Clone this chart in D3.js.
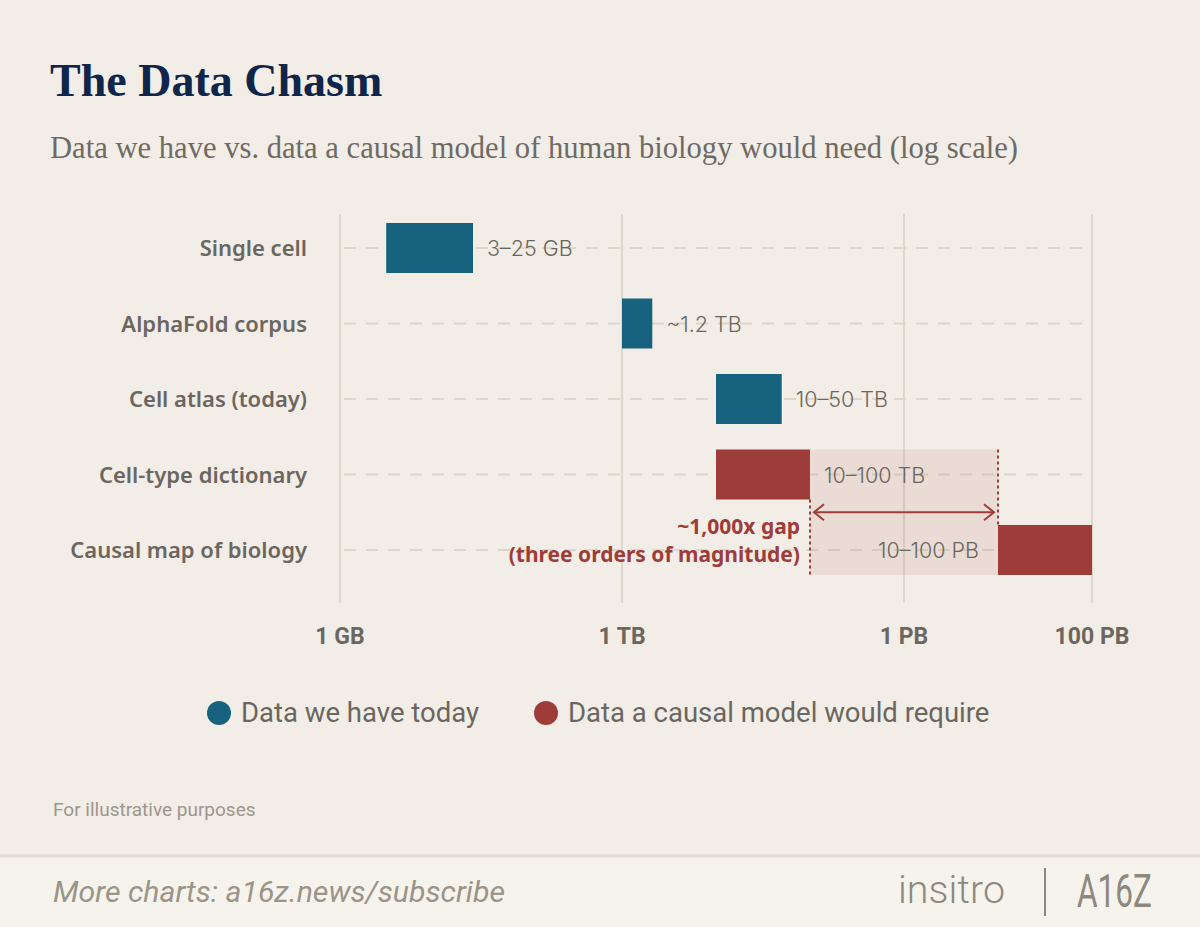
<!DOCTYPE html>
<html>
<head>
<meta charset="utf-8">
<script src="https://cdn.jsdelivr.net/npm/d3@7"></script>
<style>
  html, body { margin: 0; padding: 0; background: #f2ede6; }
  svg { display: block; }
</style>
</head>
<body>
<div id="chart"></div>
<script>
// chart values
const categories = ["Single cell", "AlphaFold corpus", "Cell atlas (today)", "Cell-type dictionary", "Causal map of biology"];
const lowValues = [3.1e9, 1e12, 1e13, 1e13, 1e16];
const highValues = [26e9, 2.1e12, 5e13, 1e14, 1e17];
const valueLabels = ["3–25 GB", "~1.2 TB", "10–50 TB", "10–100 TB", "10–100 PB"];
const seriesKeys = ["have", "have", "have", "need", "need"];
const tickValues = [1e9, 1e12, 1e15, 1e17];
const tickLabels = ["1 GB", "1 TB", "1 PB", "100 PB"];
const legendLabels = ["Data we have today", "Data a causal model would require"];
const gapFrom = 1e14, gapTo = 1e16;

const W = 1200, H = 927;
const teal = "#17627e", red = "#9e3c39", grey = "#6b6660";
const color = k => k === "have" ? teal : red;
const narrow = "'Liberation Sans Narrow', 'Roboto', sans-serif";

const svg = d3.select("#chart").append("svg")
	.attr("width", W).attr("height", H);

svg.append("rect").attr("width", W).attr("height", H).attr("fill", "#f2ede6");

// titles
svg.append("text").attr("x", 50).attr("y", 96)
	.attr("font-family", "'Liberation Serif', 'DejaVu Serif', serif")
	.attr("font-weight", 700).attr("font-size", 46).attr("fill", "#10254a")
	.text("The Data Chasm");

svg.append("text").attr("x", 50).attr("y", 158)
	.attr("font-family", "'Liberation Serif', serif")
	.attr("font-size", 31).attr("fill", "#6f6a64")
	.attr("textLength", 968).attr("lengthAdjust", "spacingAndGlyphs")
	.text("Data we have vs. data a causal model of human biology would need (log scale)");

// scales
const x = d3.scaleLog().domain([1e9, 1e17]).range([340, 1092]);
const y = d3.scalePoint().domain(categories).range([248, 550]);
const barH = 50;

// vertical grid
svg.append("g").selectAll("line").data(tickValues).enter().append("line")
	.attr("x1", d => x(d)).attr("x2", d => x(d))
	.attr("y1", 214).attr("y2", 603)
	.attr("stroke", "#dcd6cb").attr("stroke-width", 2);

// dashed row guides
svg.append("g").selectAll("line").data(categories).enter().append("line")
	.attr("x1", x(1e9) + 4).attr("x2", x(1e17))
	.attr("y1", d => y(d)).attr("y2", d => y(d))
	.attr("stroke", "#dcd6cb").attr("stroke-width", 2)
	.attr("stroke-dasharray", "12,10");

// gap shading between the two red bars
const yTop = y(categories[3]) - barH / 2, yBot = y(categories[4]) + barH / 2;
svg.append("rect")
	.attr("x", x(gapFrom)).attr("width", x(gapTo) - x(gapFrom))
	.attr("y", yTop).attr("height", yBot - yTop)
	.attr("fill", "#a5533f").attr("fill-opacity", 0.1);

// bars
svg.append("g").selectAll("rect").data(categories).enter().append("rect")
	.attr("x", (d, i) => x(lowValues[i]))
	.attr("width", (d, i) => x(highValues[i]) - x(lowValues[i]))
	.attr("y", d => y(d) - barH / 2)
	.attr("height", barH)
	.attr("fill", (d, i) => color(seriesKeys[i]));

// dotted gap edges
svg.append("line")
	.attr("x1", x(gapFrom)).attr("x2", x(gapFrom))
	.attr("y1", y(categories[3]) + barH / 2).attr("y2", yBot)
	.attr("stroke", red).attr("stroke-width", 2).attr("stroke-dasharray", "3,3");
svg.append("line")
	.attr("x1", x(gapTo)).attr("x2", x(gapTo))
	.attr("y1", yTop).attr("y2", y(categories[4]) - barH / 2)
	.attr("stroke", red).attr("stroke-width", 2).attr("stroke-dasharray", "3,3");

// double arrow
const ay = (y(categories[3]) + y(categories[4])) / 2;
const ax1 = x(gapFrom) + 4, ax2 = x(gapTo) - 4;
svg.append("line").attr("x1", ax1).attr("x2", ax2).attr("y1", ay).attr("y2", ay)
	.attr("stroke", red).attr("stroke-width", 2);
svg.append("path")
	.attr("d", `M${ax1 + 10},${ay - 8} L${ax1},${ay} L${ax1 + 10},${ay + 8} M${ax2 - 10},${ay - 8} L${ax2},${ay} L${ax2 - 10},${ay + 8}`)
	.attr("fill", "none").attr("stroke", red).attr("stroke-width", 2);

// gap annotation, two lines
const noteLines = ["~1,000x gap", "(three orders of magnitude)"];
svg.append("g").selectAll("text").data(noteLines).enter().append("text")
	.attr("x", x(gapFrom) - 10).attr("y", (d, i) => ay + 22 + i * 28)
	.attr("text-anchor", "end")
	.attr("font-family", "'Noto Sans', sans-serif")
	.attr("font-weight", 700).attr("font-size", 21).attr("fill", red)
	.text(d => d);

// value labels
svg.append("g").selectAll("text").data(categories).enter().append("text")
	.attr("x", (d, i) => i === 4 ? x(lowValues[i]) - 19 : x(highValues[i]) + 14)
	.attr("y", d => y(d) + 8)
	.attr("text-anchor", (d, i) => i === 4 ? "end" : "start")
	.attr("font-family", "'Inter', 'Noto Sans', sans-serif")
	.attr("font-weight", 300).attr("font-size", 21.5).attr("fill", grey)
	.text((d, i) => valueLabels[i]);

// category labels
svg.append("g").selectAll("text").data(categories).enter().append("text")
	.attr("x", 307).attr("y", d => y(d) + 8)
	.attr("text-anchor", "end")
	.attr("font-family", "'Noto Sans', sans-serif")
	.attr("font-weight", 600).attr("font-size", 22).attr("fill", grey)
	.text(d => d);

// x axis labels
svg.append("g").selectAll("text").data(tickValues).enter().append("text")
	.attr("x", d => x(d)).attr("y", 644)
	.attr("text-anchor", "middle")
	.attr("font-family", narrow)
	.attr("font-weight", 700).attr("font-size", 23).attr("fill", grey)
	.text((d, i) => tickLabels[i]);

// legend
const legendX = [219, 546];
const leg = svg.append("g").selectAll("g").data(legendLabels).enter().append("g")
	.attr("transform", (d, i) => "translate(" + legendX[i] + ",713)");
leg.append("circle").attr("r", 12).attr("fill", (d, i) => i === 0 ? teal : red);
leg.append("text").attr("x", 22).attr("y", 9)
	.attr("font-family", narrow)
	.attr("font-size", 27.5).attr("fill", grey)
	.text(d => d);

svg.append("text").attr("x", 53).attr("y", 816)
	.attr("font-family", narrow)
	.attr("font-size", 19).attr("fill", "#9c968f")
	.text("For illustrative purposes");

// footer band
svg.append("rect").attr("x", 0).attr("y", 855).attr("width", W).attr("height", H - 855)
	.attr("fill", "#f6f3ec");
svg.append("line").attr("x1", 0).attr("x2", W).attr("y1", 856).attr("y2", 856)
	.attr("stroke", "#e2ddd2").attr("stroke-width", 3);

svg.append("text").attr("x", 53).attr("y", 902)
	.attr("font-family", narrow)
	.attr("font-style", "italic").attr("font-size", 29).attr("fill", "#9a9489")
	.attr("textLength", 452).attr("lengthAdjust", "spacingAndGlyphs")
	.text("More charts: a16z.news/subscribe");

svg.append("text").attr("x", 898).attr("y", 903)
	.attr("font-family", "'Roboto', sans-serif")
	.attr("font-weight", 300).attr("font-size", 38).attr("fill", "#8e887e")
	.attr("textLength", 107).attr("lengthAdjust", "spacingAndGlyphs")
	.text("insitro");
svg.append("line").attr("x1", 1045).attr("x2", 1045).attr("y1", 868).attr("y2", 916)
	.attr("stroke", "#8e887e").attr("stroke-width", 2);
svg.append("text").attr("x", 1077).attr("y", 907)
	.attr("font-family", narrow)
	.attr("font-size", 46).attr("fill", "#8e887e")
	.attr("textLength", 75).attr("lengthAdjust", "spacingAndGlyphs")
	.text("A16Z");
</script>
</body>
</html>
